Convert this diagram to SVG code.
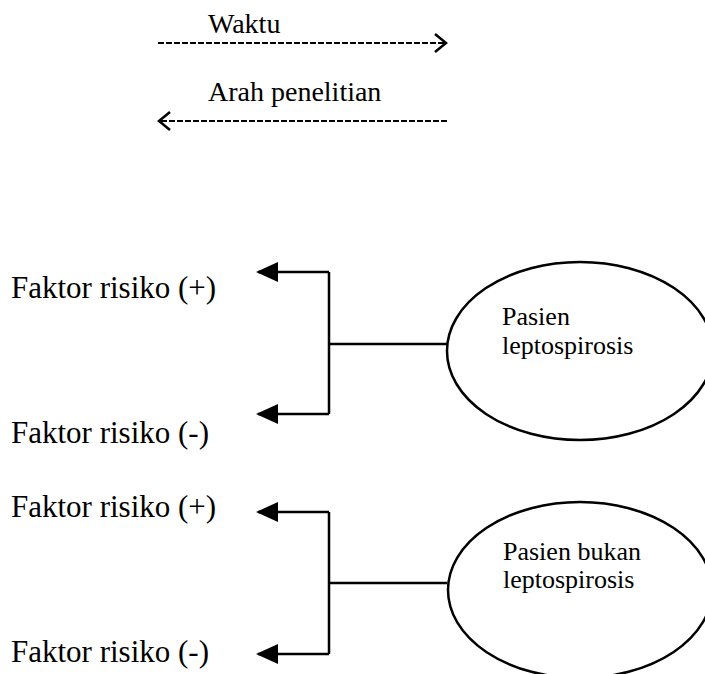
<svg xmlns="http://www.w3.org/2000/svg" width="705" height="674" viewBox="0 0 705 674">
<style>
text{font-family:"Liberation Serif","Times New Roman",serif;fill:#000}
.big{font-size:31px}
.top{font-size:28px}
.in{font-size:26px}
.ln{stroke:#000;stroke-width:2.5;fill:none}
.dash{stroke:#000;stroke-width:2;stroke-dasharray:6 2;fill:none}
.ell{stroke:#000;stroke-width:2.5;fill:#fff}
</style>
<defs>
<marker id="tri" markerWidth="22" markerHeight="20" refX="20" refY="10" orient="auto" markerUnits="userSpaceOnUse">
<path d="M0,0 L22,10 L0,20 Z" fill="#000"/>
</marker>
</defs>
<g id="legend">
<text class="top" x="208" y="33" font-family="Liberation Serif, serif">Waktu</text>
<line class="dash" x1="158" y1="43" x2="444" y2="43"/>
<polyline class="ln" points="435,34 446,43 435,52"/>
<text class="top" x="208" y="101" font-family="Liberation Serif, serif">Arah penelitian</text>
<line class="dash" x1="161" y1="121" x2="447" y2="121"/>
<polyline class="ln" points="170,112 159,121 170,130"/>
</g>
<g id="connectors">
<path class="ln" d="M447,344 H329 M329,272 V414"/>
<path class="ln" d="M329,272 H258" marker-end="url(#tri)"/>
<path class="ln" d="M329,414 H258" marker-end="url(#tri)"/>
<path class="ln" d="M447,583 H329 M329,512 V654"/>
<path class="ln" d="M329,512 H258" marker-end="url(#tri)"/>
<path class="ln" d="M329,654 H258" marker-end="url(#tri)"/>
</g>
<g id="f1plus"><text class="big" x="11" y="298" font-family="Liberation Serif, serif">Faktor risiko (+)</text></g>
<g id="f1minus"><text class="big" x="11" y="443" font-family="Liberation Serif, serif">Faktor risiko (-)</text></g>
<g id="f2plus"><text class="big" x="11" y="517" font-family="Liberation Serif, serif">Faktor risiko (+)</text></g>
<g id="f2minus"><text class="big" x="11" y="662" font-family="Liberation Serif, serif">Faktor risiko (-)</text></g>
<g id="pasien">
<ellipse class="ell" cx="580" cy="351" rx="133" ry="89"/>
<text class="in" x="502" y="325" font-family="Liberation Serif, serif">Pasien</text>
<text class="in" x="502" y="354" font-family="Liberation Serif, serif">leptospirosis</text>
</g>
<g id="pasienbukan">
<ellipse class="ell" cx="580" cy="590" rx="132" ry="88"/>
<text class="in" x="503" y="560" font-family="Liberation Serif, serif">Pasien bukan</text>
<text class="in" x="503" y="588" font-family="Liberation Serif, serif">leptospirosis</text>
</g>
</svg>
